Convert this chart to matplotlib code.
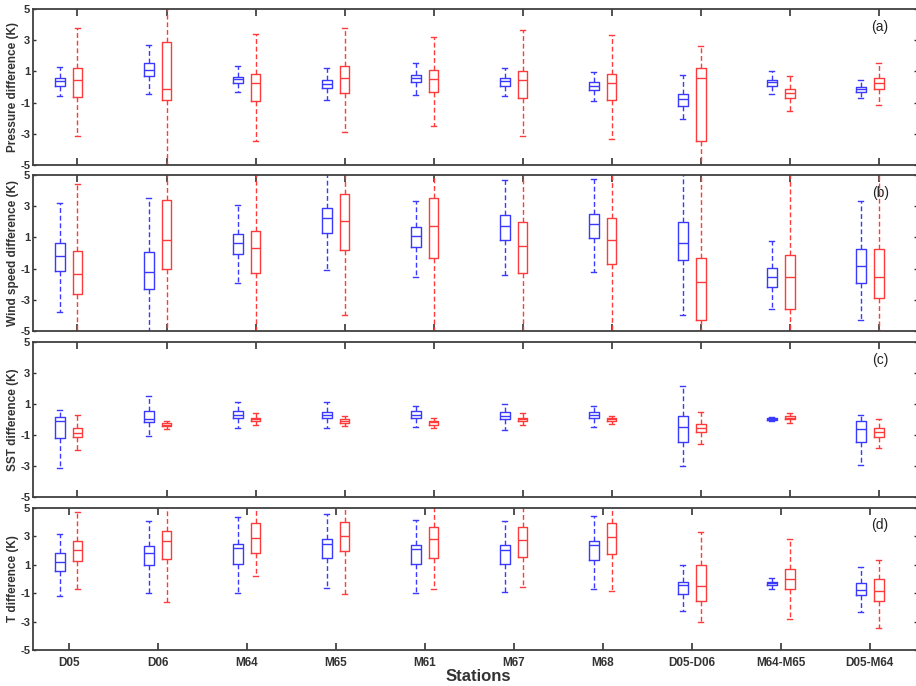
import numpy as np
import matplotlib.pyplot as plt

plt.rcParams['font.family'] = ['Liberation Sans', 'DejaVu Sans']

stations = ['D05', 'D06', 'M64', 'M65', 'M61', 'M67', 'M68', 'D05-D06', 'M64-M65', 'D05-M64']

# each row: [lower whisker, q1, median, q3, upper whisker]
pres_blue = [[-0.60, 0.09, 0.36, 0.56, 1.28], [-0.47, 0.68, 1.11, 1.54, 2.71], [-0.34, 0.26, 0.49, 0.64, 1.32],
             [-0.85, -0.04, 0.19, 0.45, 1.20], [-0.49, 0.30, 0.56, 0.77, 1.56], [-0.60, 0.06, 0.36, 0.56, 1.24],
             [-0.88, -0.19, 0.06, 0.30, 0.98], [-2.03, -1.22, -0.79, -0.43, 0.77], [-0.45, 0.09, 0.32, 0.47, 1.00],
             [-0.73, -0.30, -0.13, -0.02, 0.43]]
pres_red = [[-3.16, -0.62, 0.45, 1.20, 3.78], [-5.5, -0.85, -0.13, 2.88, 5.5], [-3.46, -0.92, 0.24, 0.81, 3.42],
            [-2.88, -0.36, 0.56, 1.32, 3.80], [-2.48, -0.34, 0.53, 1.09, 3.23], [-3.16, -0.73, 0.45, 1.05, 3.63],
            [-3.33, -0.85, 0.24, 0.81, 3.33], [-5.5, -3.46, 0.60, 1.20, 2.60], [-1.52, -0.73, -0.41, -0.11, 0.68],
            [-1.13, -0.13, 0.28, 0.58, 1.54]]

wind_blue = [[-3.78, -1.15, -0.20, 0.63, 3.18], [-5.5, -2.30, -1.21, 0.08, 3.50], [-1.94, -0.07, 0.61, 1.19, 3.05],
             [-1.12, 1.25, 2.22, 2.90, 5.5], [-1.55, 0.37, 1.08, 1.66, 3.33], [-1.42, 0.85, 1.75, 2.43, 4.70],
             [-1.23, 0.97, 1.83, 2.49, 4.72], [-3.97, -0.44, 0.67, 1.98, 5.5], [-3.57, -2.15, -1.53, -0.95, 0.76],
             [-4.27, -1.94, -0.82, 0.27, 3.33]]
wind_red = [[-5.5, -2.64, -1.32, 0.14, 4.40], [-5.5, -1.04, 0.82, 3.42, 5.5], [-5.5, -1.27, 0.29, 1.40, 5.5],
            [-3.99, 0.18, 2.07, 3.76, 5.5], [-5.5, -0.35, 1.70, 3.54, 5.5], [-5.5, -1.27, 0.44, 1.96, 5.5],
            [-5.5, -0.70, 0.85, 2.24, 5.5], [-5.5, -4.27, -1.85, -0.35, 5.5], [-5.5, -3.59, -1.55, -0.14, 5.5],
            [-5.5, -2.86, -1.55, 0.27, 5.5]]

sst_blue = [[-3.15, -1.17, -0.12, 0.18, 0.63], [-1.09, -0.14, 0.00, 0.55, 1.54], [-0.53, 0.10, 0.31, 0.53, 1.11],
            [-0.53, 0.08, 0.31, 0.51, 1.11], [-0.51, 0.08, 0.31, 0.53, 0.89], [-0.66, 0.01, 0.23, 0.48, 1.00],
            [-0.48, 0.08, 0.31, 0.48, 0.87], [-2.98, -1.47, -0.50, 0.20, 2.18], [-0.10, -0.03, 0.03, 0.08, 0.14],
            [-2.94, -1.43, -0.63, -0.12, 0.31]]
sst_red = [[-1.95, -1.13, -0.85, -0.57, 0.29], [-0.61, -0.44, -0.33, -0.25, -0.08], [-0.38, -0.12, 0.00, 0.10, 0.40],
           [-0.42, -0.20, -0.10, 0.01, 0.20], [-0.57, -0.33, -0.18, -0.08, 0.12], [-0.38, -0.10, 0.01, 0.12, 0.42],
           [-0.31, -0.10, 0.00, 0.08, 0.23], [-1.56, -0.78, -0.53, -0.27, 0.48], [-0.23, 0.00, 0.12, 0.23, 0.40],
           [-1.84, -1.13, -0.83, -0.57, 0.03]]

t_blue = [[-1.19, 0.58, 1.17, 1.82, 3.18], [-0.96, 1.00, 1.85, 2.31, 4.07], [-0.98, 1.05, 2.15, 2.45, 4.35],
          [-0.61, 1.45, 2.45, 2.83, 4.56], [-0.96, 1.05, 2.10, 2.41, 4.16], [-0.91, 1.05, 2.06, 2.36, 4.11],
          [-0.72, 1.31, 2.38, 2.66, 4.42], [-2.24, -1.03, -0.44, -0.21, 0.98], [-0.70, -0.42, -0.30, -0.19, 0.09],
          [-2.31, -1.14, -0.79, -0.28, 0.82]]
t_red = [[-0.70, 1.29, 2.01, 2.66, 4.74], [-1.59, 1.43, 2.64, 3.39, 5.5], [0.23, 1.80, 2.90, 3.95, 5.5],
         [-1.05, 1.99, 3.06, 4.04, 5.5], [-0.72, 1.45, 2.80, 3.64, 5.5], [-0.56, 1.52, 2.76, 3.64, 5.5],
         [-0.84, 1.73, 2.94, 3.95, 5.5], [-3.04, -1.54, -0.47, 1.00, 3.34], [-2.83, -0.72, 0.02, 0.70, 2.83],
         [-3.43, -1.56, -0.82, 0.00, 1.31]]

panels = [
    (pres_blue, pres_red, 'Pressure difference (K)', '(a)'),
    (wind_blue, wind_red, 'Wind speed difference (K)', '(b)'),
    (sst_blue, sst_red, 'SST difference (K)', '(c)'),
    (t_blue, t_red, 'T difference (K)', '(d)'),
]

# axes rectangles in figure fractions (left, bottom, width, height)
rects = [
    [0.036, 0.7595, 0.965, 0.2274],
    [0.036, 0.5175, 0.965, 0.2274],
    [0.036, 0.2755, 0.965, 0.2260],
    [0.036, 0.0525, 0.965, 0.2070],
]


def to_stats(rows):
    return [dict(whislo=r[0], q1=r[1], med=r[2], q3=r[3], whishi=r[4], fliers=[]) for r in rows]


def draw_boxes(ax, rows, pos, color):
    ax.bxp(to_stats(rows), positions=pos, widths=0.11, showfliers=False, manage_ticks=False,
           boxprops=dict(color=color, linewidth=1.0),
           medianprops=dict(color=color, linewidth=1.0),
           whiskerprops=dict(color=color, linewidth=1.0, linestyle=(0, (3.5, 2))),
           capprops=dict(color=color, linewidth=1.0))


fig = plt.figure(figsize=(9.16, 6.86), dpi=100)
x = np.arange(1, len(stations) + 1)

for k, (blue, red, ylabel, tag) in enumerate(panels):
    ax = fig.add_axes(rects[k])
    draw_boxes(ax, blue, x - 0.2, '#3a3aff')
    draw_boxes(ax, red, x, '#ff3a3a')
    ax.set_xlim(0.5, 10.43)
    ax.set_ylim(-5, 5)
    ax.set_yticks([-5, -3, -1, 1, 3, 5])
    ax.set_yticklabels(['-5', '-3', '-1', '1', '3', '5'], fontsize=8, fontweight='bold', color='#333333')
    ticks_x = x - 0.1 if k == 3 else x
    ax.set_xticks(ticks_x)
    if k == 3:
        ax.set_xticklabels(stations, fontsize=8.5, fontweight='bold', color='#333333')
    else:
        ax.set_xticklabels([])
    ax.tick_params(axis='x', direction='in', length=5, width=1.2, top=True, color='#333333', pad=5)
    ax.tick_params(axis='y', direction='in', length=2.5, width=1.0, right=True, color='#333333', pad=2)
    ax.set_ylabel(ylabel, fontsize=8.5, fontweight='bold', color='#333333', labelpad=1)
    for sp in ax.spines.values():
        sp.set_color('#404040')
        sp.set_linewidth(1.3)
    ax.text(0.968, 0.93, tag, transform=ax.transAxes, ha='right', va='top', fontsize=10, color='#222222')

fig.text(0.522, 0.0145, 'Stations', ha='center', va='center', fontsize=12, fontweight='bold', color='#333333')

fig.savefig('out.png', dpi=100)
